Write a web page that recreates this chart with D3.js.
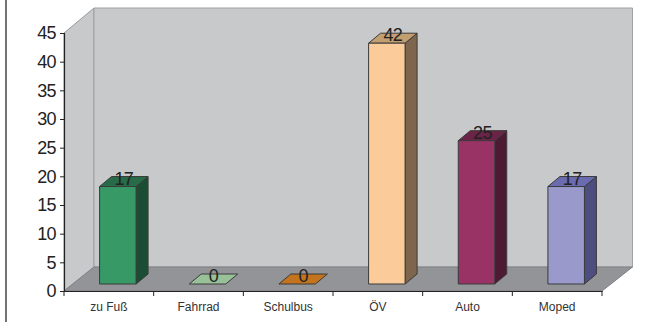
<!DOCTYPE html>
<html>
<head>
<meta charset="utf-8">
<script src="https://cdn.jsdelivr.net/npm/d3@7"></script>
<style>
html,body{margin:0;padding:0;background:#fff}
svg{display:block}
text{font-family:"Liberation Sans",Arial,sans-serif}
</style>
</head>
<body>
<svg id="chart" width="654" height="323"></svg>
<script>
// Verkehrsmittel: 3D column chart
const categories = ["zu Fuß", "Fahrrad", "Schulbus", "ÖV", "Auto", "Moped"];
const values = [17, 0, 0, 42, 25, 17];
const frontColors = ["#369966", "#99c199", "#c4731e", "#fbcb99", "#993366", "#9999cc"];
const sideColors = ["#1a4d33", "#5c7a5c", "#7a4a14", "#7e654d", "#4d1a33", "#4d4d80"];
const topColors = ["#276b48", "#99c199", "#c4731e", "#c29e70", "#6b2447", "#6b6bb0"];
const yTicks = [0, 5, 10, 15, 20, 25, 30, 35, 40, 45];

const svg = d3.select("#chart");

const plot = {left: 64, right: 602, bottom: 291, top: 33};
const depth = {dx: 30, dy: 24};
const barDepth = {dx: 12, dy: 10};
const barWidth = 36.5;

const x = d3.scaleBand().domain(categories).range([plot.left, plot.right]);
const y = d3.scaleLinear().domain([0, 45]).range([plot.bottom, plot.top]);

const line = d3.line();
const poly = pts => line(pts) + "Z";

// Walls and floor of the 3D box
const wallTop = 8;
const backLeft = plot.left + depth.dx;
const backRight = plot.right + depth.dx + 0.5;
const backBottom = plot.bottom - depth.dy;

svg.append("line")
  .attr("x1", 6).attr("x2", 6).attr("y1", 0).attr("y2", 322)
  .attr("stroke", "#444").attr("stroke-width", 1.5);

svg.append("path")
  .attr("d", poly([[plot.left, plot.top], [backLeft, wallTop], [backLeft, backBottom], [plot.left, plot.bottom]]))
  .attr("fill", "#c8c9cb").attr("stroke", "#999a9c").attr("stroke-width", 1);
svg.append("path")
  .attr("d", poly([[backLeft, wallTop], [backRight, wallTop], [backRight, backBottom], [backLeft, backBottom]]))
  .attr("fill", "#c8c9cb").attr("stroke", "#a0a1a3").attr("stroke-width", 1);
svg.append("path")
  .attr("d", poly([[plot.left, plot.bottom], [backLeft, backBottom], [backRight, backBottom], [plot.right, plot.bottom]]))
  .attr("fill", "#939497").attr("stroke", "#808184").attr("stroke-width", 1);

// Columns: front, side and top faces
const bars = svg.append("g").selectAll("g")
  .data(categories.map((c, i) => ({c, v: values[i], i})))
  .join("g")
  .attr("stroke", "#3a3a3a")
  .attr("stroke-width", 1)
  .attr("stroke-linejoin", "round");

const xLeft = d => x(d.c) + x.bandwidth() / 2 + (depth.dx - barDepth.dx) / 2 - barWidth / 2;
const yBase = plot.bottom - (depth.dy - barDepth.dy) / 2;
const yTop = d => yBase - (y(0) - y(d.v));

bars.filter(d => d.v > 0).append("path")
  .attr("fill", d => sideColors[d.i])
  .attr("d", d => {
    const r = xLeft(d) + barWidth;
    return poly([[r, yBase], [r, yTop(d)], [r + barDepth.dx, yTop(d) - barDepth.dy], [r + barDepth.dx, yBase - barDepth.dy]]);
  });
bars.append("path")
  .attr("fill", d => topColors[d.i])
  .attr("d", d => {
    const l = xLeft(d), r = l + barWidth, t = yTop(d);
    return poly([[l, t], [l + barDepth.dx, t - barDepth.dy], [r + barDepth.dx, t - barDepth.dy], [r, t]]);
  });
bars.filter(d => d.v > 0).append("rect")
  .attr("fill", d => frontColors[d.i])
  .attr("x", d => xLeft(d))
  .attr("y", d => yTop(d))
  .attr("width", barWidth)
  .attr("height", d => yBase - yTop(d));

// Value labels above each column
svg.append("g").selectAll("text")
  .data(categories.map((c, i) => ({c, v: values[i], i})))
  .join("text")
  .attr("x", d => xLeft(d) + barWidth / 2 + 6)
  .attr("y", d => yTop(d) - 2)
  .attr("text-anchor", "middle")
  .attr("font-size", 18)
  .attr("letter-spacing", -0.6)
  .attr("fill", "#222")
  .text(d => d.v);

// Axes
const yAxis = d3.axisLeft(y).tickValues(yTicks).tickSize(4).tickPadding(4);
const gy = svg.append("g").attr("transform", `translate(${plot.left},0)`).call(yAxis);
gy.selectAll("text").attr("font-size", 18).attr("letter-spacing", -0.6).attr("fill", "#222")
  .attr("font-family", "Liberation Sans");

const xAxis = d3.axisBottom(x).tickSize(0).tickPadding(11);
const gx = svg.append("g").attr("transform", `translate(0,${plot.bottom})`).call(xAxis);
gx.selectAll("text").attr("font-size", 12).attr("fill", "#333")
  .attr("font-family", "Liberation Sans");

// Tick marks sit on the band boundaries rather than the band centres
gx.selectAll("line.boundary")
  .data(d3.range(categories.length + 1))
  .join("line")
  .attr("class", "boundary")
  .attr("x1", i => plot.left + i * x.bandwidth())
  .attr("x2", i => plot.left + i * x.bandwidth())
  .attr("y1", 0).attr("y2", 5)
  .attr("stroke", "#222");

svg.selectAll(".domain").attr("stroke", "#222").attr("stroke-width", 1.2);
gy.selectAll(".tick line").attr("stroke", "#222");
</script>
</body>
</html>
